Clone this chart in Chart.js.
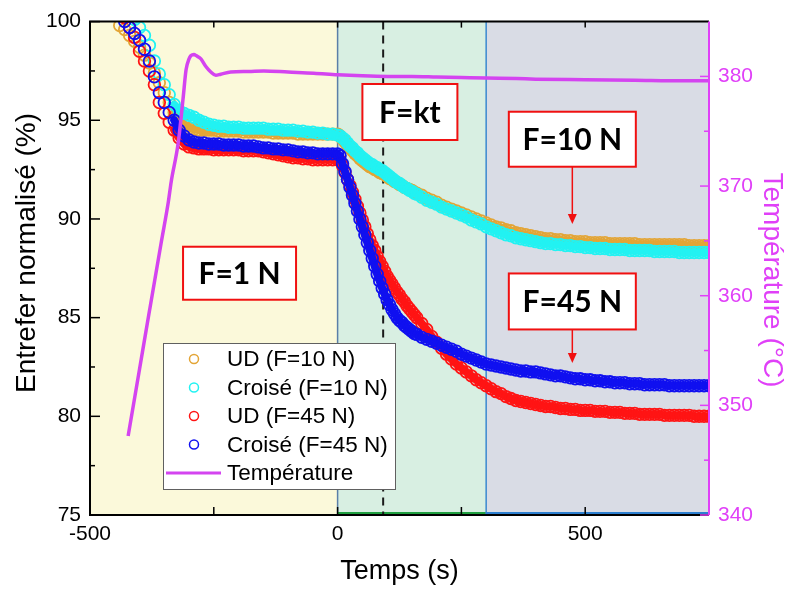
<!DOCTYPE html>
<html lang="fr">
<head>
<meta charset="utf-8">
<script src="https://cdn.jsdelivr.net/npm/chart.js@4/dist/chart.umd.min.js"></script>
<style>
  html, body { margin: 0; padding: 0; background: #fff; }
</style>
</head>
<body>
<canvas id="chart" width="787" height="590"></canvas>
<script>
// --- data ---
const tempsForce = [
  -440, -430, -420, -410, -400, -390, -380, -370, -360, -350, -340, -330, -320, -310, -300,
  -290, -280, -270, -260, -250, -240, -230, -220, -210, -200, -190, -180, -170, -160, -150,
  -140, -130, -120, -110, -100, -90, -80, -70, -60, -50, -40, -30, -20, -10,
  0, 5, 10, 15, 20, 25, 30, 35, 40, 45, 50, 55, 60, 65, 70, 75, 80, 85, 90, 95, 100,
  105, 110, 115, 120, 125, 130, 135, 140, 145, 150, 155, 160,
  170, 180, 190, 200, 210, 220, 230, 240, 250, 260, 270, 280, 290, 300,
  310, 320, 330, 340, 350, 360, 370, 380, 390, 400,
  410, 420, 430, 440, 450, 460, 470, 480, 490, 500,
  510, 520, 530, 540, 550, 560, 570, 580, 590, 600,
  610, 620, 630, 640, 650, 660, 670, 680, 690, 700,
  710, 720, 730, 740, 750
];

const udF10 = [
  99.8, 99.6, 99.3, 99.0, 98.7, 98.3, 97.9, 97.4, 96.9, 96.4, 95.9, 95.4, 95.1, 94.8, 94.6,
  94.55, 94.5, 94.5, 94.5, 94.5, 94.45, 94.45, 94.45, 94.45, 94.45, 94.4, 94.4, 94.4, 94.4, 94.4,
  94.4, 94.35, 94.35, 94.35, 94.35, 94.35, 94.3, 94.3, 94.3, 94.3, 94.3, 94.3, 94.3, 94.3,
  94.3, 94.2, 94.05, 93.9, 93.75, 93.6, 93.45, 93.3, 93.2, 93.05, 92.95, 92.85, 92.75, 92.65, 92.6, 92.5, 92.45, 92.35, 92.3, 92.25, 92.15,
  92.05, 92.0, 91.9, 91.85, 91.75, 91.7, 91.6, 91.55, 91.5, 91.45, 91.35, 91.3,
  91.2, 91.05, 90.95, 90.85, 90.7, 90.6, 90.5, 90.4, 90.3, 90.2, 90.1, 90.0, 89.9, 89.8,
  89.7, 89.6, 89.55, 89.45, 89.4, 89.3, 89.25, 89.2, 89.15, 89.1,
  89.05, 89.0, 89.0, 88.95, 88.95, 88.9, 88.9, 88.85, 88.85, 88.85,
  88.8, 88.8, 88.8, 88.8, 88.75, 88.75, 88.75, 88.75, 88.75, 88.75,
  88.7, 88.7, 88.7, 88.7, 88.7, 88.7, 88.7, 88.7, 88.7, 88.7,
  88.65, 88.65, 88.65, 88.65, 88.65
];

const croiseF10 = [
  101.0, 100.7, 100.4, 100.1, 99.7, 99.3, 98.8, 98.0, 97.35, 96.8, 96.3, 95.8, 95.5, 95.35, 95.25,
  95.15, 95.0, 94.9, 94.8, 94.75, 94.7, 94.7, 94.65, 94.65, 94.65, 94.6, 94.6, 94.6, 94.6, 94.6,
  94.55, 94.55, 94.55, 94.5, 94.5, 94.5, 94.45, 94.45, 94.4, 94.4, 94.35, 94.35, 94.3, 94.3,
  94.25, 94.2, 94.1, 94.0, 93.85, 93.7, 93.6, 93.45, 93.35, 93.2, 93.1, 93.0, 92.9, 92.8, 92.75, 92.65, 92.6, 92.5, 92.45, 92.35, 92.25,
  92.15, 92.05, 91.95, 91.85, 91.8, 91.7, 91.6, 91.55, 91.45, 91.4, 91.3, 91.25,
  91.1, 90.95, 90.85, 90.75, 90.6, 90.5, 90.4, 90.3, 90.2, 90.1, 89.95, 89.85, 89.75, 89.6,
  89.5, 89.4, 89.3, 89.2, 89.15, 89.05, 89.0, 88.95, 88.9, 88.85,
  88.8, 88.75, 88.75, 88.7, 88.7, 88.65, 88.65, 88.6, 88.6, 88.55,
  88.55, 88.5, 88.5, 88.5, 88.45, 88.45, 88.45, 88.45, 88.4, 88.4,
  88.4, 88.4, 88.4, 88.35, 88.35, 88.35, 88.35, 88.35, 88.3, 88.3,
  88.3, 88.3, 88.3, 88.3, 88.3
];

const udF45 = [
  100.6, 100.2, 99.7, 99.2, 98.5, 98.0, 97.5, 96.8, 95.9, 95.35, 94.9, 94.5, 94.1, 93.8, 93.65,
  93.6, 93.55, 93.55, 93.55, 93.5, 93.5, 93.5, 93.5, 93.5, 93.5, 93.45, 93.45, 93.45, 93.45, 93.4,
  93.35, 93.3, 93.25, 93.2, 93.15, 93.1, 93.1, 93.05, 93.05, 93.0, 93.0, 93.0, 93.0, 93.0,
  93.0, 92.95, 92.7, 92.35, 92.0, 91.7, 91.35, 91.0, 90.65, 90.3, 89.95, 89.6, 89.25, 88.95, 88.65, 88.4, 88.1, 87.85, 87.6, 87.35, 87.1,
  86.9, 86.7, 86.5, 86.3, 86.15, 85.95, 85.8, 85.6, 85.45, 85.3, 85.15, 85.0,
  84.7, 84.4, 84.05, 83.75, 83.45, 83.15, 82.9, 82.65, 82.45, 82.25, 82.05, 81.85, 81.7, 81.55,
  81.4, 81.25, 81.15, 81.0, 80.9, 80.8, 80.75, 80.7, 80.65, 80.6,
  80.55, 80.5, 80.5, 80.45, 80.4, 80.4, 80.35, 80.35, 80.3, 80.3,
  80.3, 80.25, 80.25, 80.25, 80.2, 80.2, 80.2, 80.15, 80.15, 80.15,
  80.1, 80.1, 80.1, 80.1, 80.1, 80.05, 80.05, 80.05, 80.05, 80.05,
  80.05, 80.0, 80.0, 80.0, 80.0
];

const croiseF45 = [
  100.3, 100.0, 99.7, 99.4, 99.05, 98.6, 98.0, 97.2, 96.4, 95.9, 95.4, 95.0, 94.5, 94.2, 94.0,
  93.9, 93.85, 93.85, 93.8, 93.8, 93.8, 93.75, 93.75, 93.75, 93.75, 93.7, 93.7, 93.7, 93.65, 93.6,
  93.6, 93.55, 93.55, 93.5, 93.5, 93.45, 93.4, 93.4, 93.35, 93.35, 93.3, 93.3, 93.3, 93.3,
  93.3, 93.2, 92.8, 92.4, 92.0, 91.6, 91.2, 90.8, 90.4, 90.0, 89.6, 89.2, 88.8, 88.4, 88.0, 87.6, 87.2, 86.85, 86.5, 86.2, 85.9,
  85.65, 85.4, 85.2, 85.0, 84.85, 84.75, 84.6, 84.5, 84.4, 84.3, 84.2, 84.15,
  84.0, 83.9, 83.8, 83.7, 83.6, 83.5, 83.4, 83.3, 83.15, 83.05, 82.95, 82.85, 82.75, 82.65,
  82.6, 82.55, 82.5, 82.45, 82.4, 82.35, 82.3, 82.3, 82.25, 82.25,
  82.2, 82.15, 82.1, 82.05, 82.05, 82.0, 81.95, 81.9, 81.9, 81.85,
  81.85, 81.8, 81.8, 81.75, 81.75, 81.7, 81.7, 81.7, 81.65, 81.65,
  81.65, 81.6, 81.6, 81.6, 81.6, 81.6, 81.55, 81.55, 81.55, 81.55,
  81.55, 81.55, 81.55, 81.55, 81.55
];

const tempsT = [
  -423, -400, -380, -356, -342, -336, -322, -312, -306, -300, -296, -290, -286, -276, -266,
  -256, -246, -236, -216, -180, -149, -100, -48, 0, 50, 100, 150, 200, 250, 300,
  362, 400, 500, 600, 700, 750
];
const temperature = [
  347.2, 353.3, 358.6, 364.9, 368.5, 370.4, 373.9, 378.0, 380.6, 381.6, 381.9, 382.0, 381.9, 381.6, 380.9,
  380.4, 380.1, 380.2, 380.4, 380.45, 380.5, 380.4, 380.3, 380.15, 380.05, 380.0, 380.0, 379.95, 379.9, 379.85,
  379.8, 379.75, 379.7, 379.65, 379.6, 379.6
];

// axis ticks
const xTicks = [-500, 0, 500];
const xMinor = [-250, 250];
const yTicks = [75, 80, 85, 90, 95, 100];
const yMinor = [77.5, 82.5, 87.5, 92.5, 97.5];
const tTicks = [340, 350, 360, 370, 380];
const tMinor = [345, 355, 365, 375];

// --- styling ---
const FONT = "'Liberation Sans', Arial, sans-serif";
const C = {
  ud10: '#E3A536',
  cr10: '#22F2F2',
  ud45: '#FF1414',
  cr45: '#1010F0',
  temp: '#D444F0',
  tempAxis: '#E040F8',
};

const bands = [
  { from: -500, to: 0, fill: '#FBF9DA' },
  { from: 0, to: 300, fill: '#D8EFE2', edge: '#5B7FA8', base: '#1FA040' },
  { from: 300, to: 750, fill: '#D9DCE5', edge: '#3A88D0', base: '#2C7FD0' },
];
const dashAt = 92;
// below this time the samples are sparse: circles only, no filled trace
const sparseBefore = -330;

const notes = [
  { text: 'F=1 N', x: -198, y: 87.25, w: 113, h: 53 },
  { text: 'F=kt', x: 146, y: 95.42, w: 95, h: 56 },
  { text: 'F=10 N', x: 474, y: 94.04, w: 127, h: 55, arrowTo: 89.74 },
  { text: 'F=45 N', x: 474, y: 85.82, w: 127, h: 56, arrowTo: 82.7 },
];

const legendBox = { left: 163, top: 343, width: 232, height: 146, row: 28.5 };

function pts(xs, ys) {
  return xs.map((t, i) => ({ x: t, y: ys[i] }));
}

function circleSet(label, data, color, order) {
  return {
    label,
    data,
    order,
    showLine: true,
    borderWidth: 8,
    borderJoinStyle: 'round',
    borderCapStyle: 'round',
    borderColor: color,
    segment: {
      borderColor: ctx => (ctx.p0.parsed.x < sparseBefore ? 'rgba(0,0,0,0)' : color),
    },
    pointStyle: 'circle',
    pointRadius: 5.8,
    pointBorderWidth: 1.8,
    pointBackgroundColor: 'rgba(0,0,0,0)',
    pointBorderColor: color,
    clip: 0,
  };
}

function drawTicks(ctx, scale, values, len, side, a) {
  values.forEach(v => {
    const p = scale.getPixelForValue(v);
    ctx.beginPath();
    if (side === 'bottom') { ctx.moveTo(p, a.bottom); ctx.lineTo(p, a.bottom - len); }
    if (side === 'top') { ctx.moveTo(p, a.top); ctx.lineTo(p, a.top + len); }
    if (side === 'left') { ctx.moveTo(a.left, p); ctx.lineTo(a.left + len, p); }
    if (side === 'right') { ctx.moveTo(a.right, p); ctx.lineTo(a.right - len, p); }
    ctx.stroke();
  });
}

const decor = {
  id: 'decor',
  beforeDatasetsDraw(chart) {
    const { ctx, chartArea: a, scales: { x } } = chart;
    ctx.save();
    bands.forEach(b => {
      const x0 = x.getPixelForValue(b.from);
      const x1 = x.getPixelForValue(b.to);
      ctx.fillStyle = b.fill;
      ctx.fillRect(x0, a.top, x1 - x0, a.bottom - a.top);
    });
    bands.forEach(b => {
      if (!b.edge) return;
      const x0 = x.getPixelForValue(b.from);
      const x1 = x.getPixelForValue(b.to);
      ctx.lineWidth = 1.5;
      ctx.strokeStyle = b.edge;
      ctx.beginPath();
      ctx.moveTo(x0, a.top);
      ctx.lineTo(x0, a.bottom);
      ctx.stroke();
      ctx.strokeStyle = b.base;
      ctx.lineWidth = 2;
      ctx.beginPath();
      ctx.moveTo(x0, a.bottom - 2);
      ctx.lineTo(x1, a.bottom - 2);
      ctx.stroke();
    });
    // dashed marker
    const xd = x.getPixelForValue(dashAt);
    ctx.strokeStyle = '#1a1a1a';
    ctx.lineWidth = 2;
    ctx.setLineDash([8, 6]);
    ctx.beginPath();
    ctx.moveTo(xd, a.top);
    ctx.lineTo(xd, a.bottom);
    ctx.stroke();
    ctx.restore();
  },
  afterDatasetsDraw(chart) {
    const { ctx, chartArea: a, scales: { x, y, y2 } } = chart;
    ctx.save();

    // frame + inside ticks
    ctx.strokeStyle = '#000';
    ctx.lineWidth = 2;
    ctx.beginPath();
    ctx.moveTo(a.right, a.top);
    ctx.lineTo(a.left, a.top);
    ctx.lineTo(a.left, a.bottom);
    ctx.lineTo(a.right, a.bottom);
    ctx.stroke();
    ctx.lineWidth = 1.5;
    drawTicks(ctx, x, xTicks, 8, 'bottom', a);
    drawTicks(ctx, x, xMinor, 8, 'bottom', a);
    drawTicks(ctx, x, xTicks, 6, 'top', a);
    drawTicks(ctx, x, xMinor, 6, 'top', a);
    drawTicks(ctx, y, yTicks, 10, 'left', a);
    drawTicks(ctx, y, yMinor, 5, 'left', a);
    ctx.strokeStyle = C.tempAxis;
    ctx.lineWidth = 2;
    ctx.beginPath();
    ctx.moveTo(a.right, a.top);
    ctx.lineTo(a.right, a.bottom);
    ctx.stroke();
    ctx.lineWidth = 1.5;
    drawTicks(ctx, y2, tTicks, 9, 'right', a);
    drawTicks(ctx, y2, tMinor, 5, 'right', a);

    // annotation boxes
    notes.forEach(n => {
      const cx = x.getPixelForValue(n.x);
      const cy = y.getPixelForValue(n.y);
      const bx = cx - n.w / 2, by = cy - n.h / 2;
      if (n.arrowTo !== undefined) {
        const tip = y.getPixelForValue(n.arrowTo);
        ctx.strokeStyle = '#F01010';
        ctx.fillStyle = '#F01010';
        ctx.lineWidth = 1.5;
        ctx.beginPath();
        ctx.moveTo(cx, by + n.h);
        ctx.lineTo(cx, tip - 8);
        ctx.stroke();
        ctx.beginPath();
        ctx.moveTo(cx, tip);
        ctx.lineTo(cx - 4.5, tip - 10);
        ctx.lineTo(cx + 4.5, tip - 10);
        ctx.closePath();
        ctx.fill();
      }
      ctx.fillStyle = '#fff';
      ctx.fillRect(bx, by, n.w, n.h);
      ctx.strokeStyle = '#F01010';
      ctx.lineWidth = 2;
      ctx.strokeRect(bx, by, n.w, n.h);
      ctx.fillStyle = '#000';
      ctx.font = "bold 30px Lato, 'Open Sans', sans-serif";
      ctx.textAlign = 'center';
      ctx.textBaseline = 'middle';
      ctx.fillText(n.text, cx, cy + 1);
    });

    // legend
    const L = legendBox;
    ctx.fillStyle = '#fff';
    ctx.fillRect(L.left, L.top, L.width, L.height);
    ctx.strokeStyle = '#606060';
    ctx.lineWidth = 1;
    ctx.strokeRect(L.left + 0.5, L.top + 0.5, L.width, L.height);
    ctx.font = `22.5px ${FONT}`;
    ctx.textAlign = 'left';
    ctx.textBaseline = 'middle';
    chart.data.datasets.forEach((ds, i) => {
      const ry = L.top + 16 + i * L.row;
      if (ds.yAxisID === 'y2') {
        ctx.strokeStyle = ds.borderColor;
        ctx.lineWidth = 3;
        ctx.beginPath();
        ctx.moveTo(L.left + 3, ry);
        ctx.lineTo(L.left + 58, ry);
        ctx.stroke();
      } else {
        ctx.strokeStyle = ds.pointBorderColor;
        ctx.lineWidth = 1.5;
        ctx.beginPath();
        ctx.arc(L.left + 31, ry, 4.5, 0, Math.PI * 2);
        ctx.stroke();
      }
      ctx.fillStyle = '#000';
      ctx.fillText(ds.label, L.left + 64, ry + 1);
    });

    // vertical axis titles
    ctx.font = `28px ${FONT}`;
    ctx.textAlign = 'center';
    ctx.textBaseline = 'middle';
    ctx.fillStyle = '#000';
    ctx.save();
    ctx.translate(27, 253);
    ctx.rotate(-Math.PI / 2);
    ctx.fillText('Entrefer normalisé (%)', 0, 0);
    ctx.restore();
    ctx.fillStyle = C.tempAxis;
    ctx.save();
    ctx.translate(772, 280);
    ctx.rotate(Math.PI / 2);
    ctx.fillText('Température (°C)', 0, 0);
    ctx.restore();

    ctx.restore();
  },
};

new Chart(document.getElementById('chart'), {
  type: 'scatter',
  data: {
    datasets: [
      circleSet('UD (F=10 N)', pts(tempsForce, udF10), C.ud10, 5),
      circleSet('Croisé (F=10 N)', pts(tempsForce, croiseF10), C.cr10, 4),
      circleSet('UD (F=45 N)', pts(tempsForce, udF45), C.ud45, 3),
      circleSet('Croisé (F=45 N)', pts(tempsForce, croiseF45), C.cr45, 2),
      {
        label: 'Température',
        data: pts(tempsT, temperature),
        yAxisID: 'y2',
        order: 1,
        showLine: true,
        borderColor: C.temp,
        borderWidth: 3.5,
        pointRadius: 0,
        cubicInterpolationMode: 'monotone',
        clip: 0,
      },
    ],
  },
  options: {
    responsive: false,
    animation: false,
    events: [],
    layout: { padding: { top: 18, left: 0, right: 0, bottom: 0 } },
    plugins: { legend: { display: false }, tooltip: { enabled: false } },
    scales: {
      x: {
        type: 'linear',
        min: -500,
        max: 750,
        afterBuildTicks: s => { s.ticks = xTicks.map(v => ({ value: v })); },
        afterFit: s => { s.height = 75; },
        grid: { display: false, drawTicks: false },
        border: { display: false },
        ticks: { font: { family: FONT, size: 21 }, color: '#000', padding: 7, maxRotation: 0 },
        title: {
          display: true,
          text: 'Temps (s)',
          font: { family: FONT, size: 27 },
          color: '#000',
          padding: { top: 0, bottom: 2 },
        },
      },
      y: {
        position: 'left',
        min: 75,
        max: 100,
        afterBuildTicks: s => { s.ticks = yTicks.map(v => ({ value: v })); },
        afterFit: s => { s.width = 90; },
        grid: { display: false, drawTicks: false },
        border: { display: false },
        ticks: { font: { family: FONT, size: 21 }, color: '#000', padding: 9 },
      },
      y2: {
        position: 'right',
        min: 340,
        max: 385,
        afterBuildTicks: s => { s.ticks = tTicks.map(v => ({ value: v })); },
        afterFit: s => { s.width = 78; },
        grid: { display: false, drawTicks: false },
        border: { display: false },
        ticks: { font: { family: FONT, size: 21 }, color: C.tempAxis, padding: 9 },
      },
    },
  },
  plugins: [decor],
});
</script>
</body>
</html>
